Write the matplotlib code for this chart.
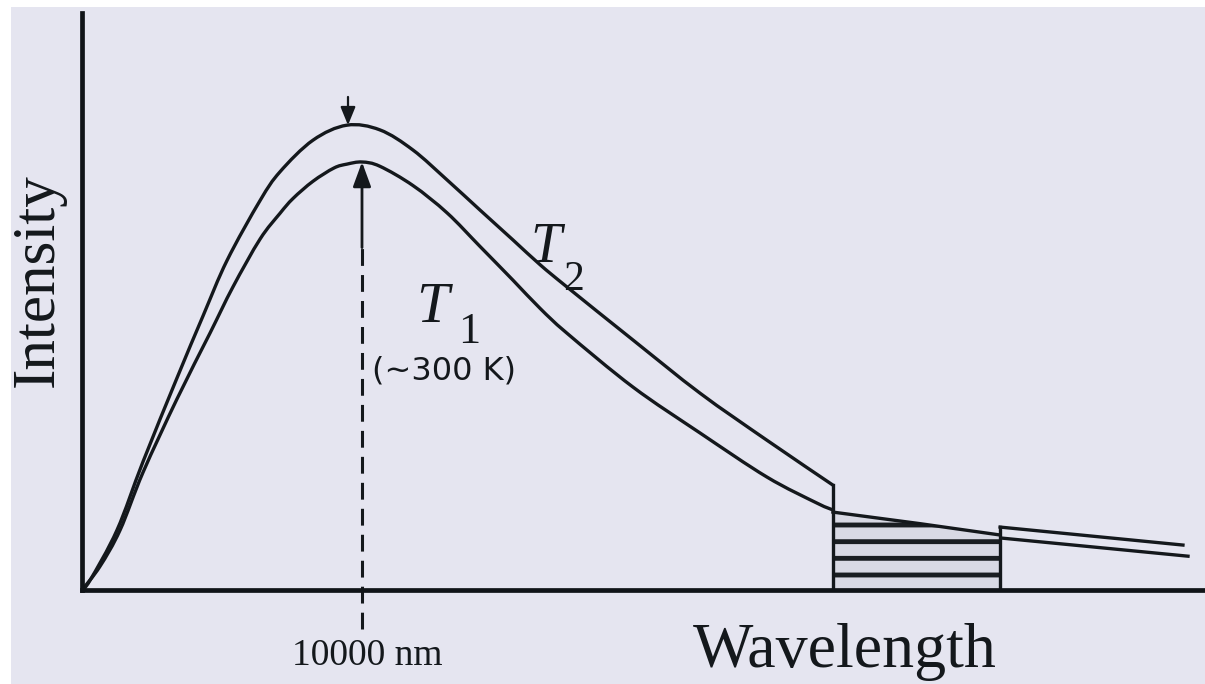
import matplotlib
matplotlib.use("Agg")
import matplotlib.pyplot as plt
import numpy as np
from matplotlib.patches import Rectangle, PathPatch
from matplotlib.path import Path

# ---- data (wavelength in micrometres, intensity in arbitrary units) ----
t1_wavelength = [0.0, 0.64, 1.36, 2.18, 3.39, 4.57, 5.39, 6.36, 7.07, 7.54, 8.25, 9.0,
                 9.46, 10.0, 10.64, 11.82, 13.04, 14.21, 15.39, 16.36, 17.32, 19.68,
                 22.07, 24.46, 26.25, 26.82]
t1_intensity = [0.0, 5.5, 14.0, 27.5, 44.6, 60.0, 70.8, 82.0, 88.0, 91.5, 95.5, 98.6,
                99.5, 100.0, 99.0, 94.5, 88.1, 80.3, 72.4, 65.8, 60.0, 47.4,
                36.7, 26.4, 20.3, 18.7]

t2_wavelength = [0.0, 0.29, 1.25, 2.18, 3.39, 4.32, 5.18, 6.36, 7.07, 8.25, 9.46,
                 10.64, 11.82, 13.04, 14.21, 15.39, 16.36, 17.32, 19.68, 22.07, 24.46,
                 26.82]
t2_intensity = [0.0, 2.3, 14.0, 30.0, 49.5, 64.0, 77.0, 91.0, 97.7, 105.1, 108.6,
                107.5, 102.8, 95.8, 88.8, 81.8, 76.0, 70.8, 58.4, 46.0, 35.0,
                24.5]

# absorbed band (shaded) and the tails beyond it
band_wavelength = [26.82, 29.93, 32.79]
band_intensity = [18.2, 15.5, 12.85]

t2_tail_wavelength = [32.79, 39.32]
t2_tail_intensity = [14.7, 10.5]
t1_tail_wavelength = [32.89, 39.50]
t1_tail_intensity = [12.1, 7.9]

peak_t1 = (10.0, 100.0)
peak_t2 = (9.5, 108.6)


def smooth_path(xs, ys):
    """Catmull-Rom curve through the points, as cubic Bezier segments."""
    p = np.column_stack([xs, ys]).astype(float)
    ext = np.vstack([p[0], p, p[-1]])
    verts = [p[0]]
    codes = [Path.MOVETO]
    for i in range(1, len(ext) - 2):
        p0, p1, p2, p3 = ext[i - 1], ext[i], ext[i + 1], ext[i + 2]
        verts += [p1 + (p2 - p0) / 6.0, p2 - (p3 - p1) / 6.0, p2]
        codes += [Path.CURVE4] * 3
    return Path(verts, codes)


# ---- figure ----
W, H = 1205, 684
fig = plt.figure(figsize=(W / 100, H / 100), dpi=100, facecolor="white")
bg = "#e5e5f0"
fig.patches.append(Rectangle((11 / W, 0), 1 - 11 / W, 1 - 7 / H,
                             transform=fig.transFigure, facecolor=bg,
                             edgecolor="none", zorder=-10))

ax = fig.add_axes([82 / W, (H - 590) / H, (W - 82) / W, (590 - 13) / H])
ax.set_facecolor("none")
ax.set_xlim(0, (W - 82) / 28)
ax.set_ylim(0, (590 - 13) / 4.28)
for s in ("top", "right"):
    ax.spines[s].set_visible(False)
for s in ("left", "bottom"):
    ax.spines[s].set_linewidth(3.4)
    ax.spines[s].set_color("#101418")
ax.set_xticks([])
ax.set_yticks([])

ink = "#14181c"
lw = 2.4
for xs, ys in ((t1_wavelength, t1_intensity), (t2_wavelength, t2_intensity)):
    ax.add_patch(PathPatch(smooth_path(xs, ys), facecolor="none",
                           edgecolor=ink, lw=lw, capstyle="butt"))

# shaded (absorbed) band
plt.rcParams["hatch.linewidth"] = 3.5
plt.rcParams["hatch.color"] = "#1a1e22"
ax.fill_between(band_wavelength, 0, band_intensity, facecolor="#d8d9e4",
                hatch="-", edgecolor="#1a1e22", linewidth=0)
ax.plot(band_wavelength, band_intensity, color=ink, lw=lw)
ax.plot([band_wavelength[0], band_wavelength[0]], [0, t2_intensity[-1]],
        color=ink, lw=lw)
ax.plot([band_wavelength[-1], band_wavelength[-1]], [0, t2_tail_intensity[0]],
        color=ink, lw=lw)

ax.plot(t2_tail_wavelength, t2_tail_intensity, color=ink, lw=lw)
ax.plot(t1_tail_wavelength, t1_tail_intensity, color=ink, lw=lw)

# arrows to the peaks
ax.annotate("", xy=peak_t2, xytext=(peak_t2[0], peak_t2[1] + 6.6),
            arrowprops=dict(arrowstyle="-|>,head_length=1.1,head_width=0.45",
                            color=ink, lw=1.6, shrinkA=0, shrinkB=0))
ax.annotate("", xy=peak_t1, xytext=(peak_t1[0], peak_t1[1] - 20),
            arrowprops=dict(arrowstyle="-|>,head_length=1.5,head_width=0.55",
                            color=ink, lw=2.0, shrinkA=0, shrinkB=0))
ax.plot([peak_t1[0], peak_t1[0]], [-9.0, peak_t1[1] - 20], color=ink, lw=2.2,
        ls=(0, (5.5, 3)), clip_on=False)

# texts
serif = "Liberation Serif"
ax.text(peak_t1[0] + 0.2, -17.5, "10000 nm", family=serif, fontsize=27,
        ha="center", va="baseline", color=ink, clip_on=False)
ax.text(27.25, -18.0, "Wavelength", family=serif, fontsize=46,
        ha="center", va="baseline", color=ink, clip_on=False)
fig.text(38 / W, 1 - 280 / H, "Intensity", family=serif, fontsize=44,
         rotation=90, ha="center", va="center", color=ink)

ax.text(11.95, 62.6, "T", family=serif, style="italic", fontsize=42,
        ha="left", va="baseline", color=ink)
ax.text(13.45, 57.7, "1", family=serif, fontsize=32,
        ha="left", va="baseline", color=ink)
ax.text(16.0, 76.6, "T", family=serif, style="italic", fontsize=40,
        ha="left", va="baseline", color=ink)
ax.text(17.18, 70.1, "2", family=serif, fontsize=30,
        ha="left", va="baseline", color=ink)
ax.text(10.36, 51.2, "(~300 K)", family=["DejaVu Sans"], fontsize=23,
        ha="left", va="center", color=ink)

fig.savefig("out.png", dpi=100, facecolor=fig.get_facecolor())
